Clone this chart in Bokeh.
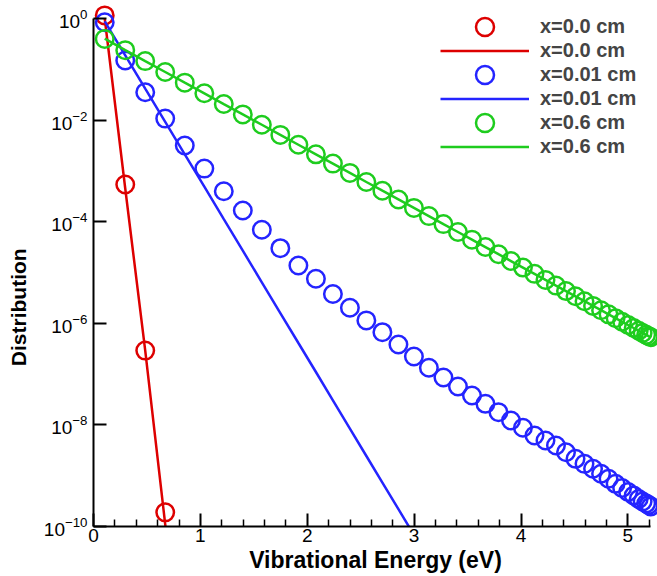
from bokeh.plotting import figure
from bokeh.models import FixedTicker, LogTickFormatter, Range1d, Legend, LegendItem
from bokeh.core.properties import value
from bokeh.embed import file_html
from bokeh.resources import INLINE

# vibrational level energies (eV)
energy = [0.105, 0.297, 0.484, 0.671, 0.854, 1.037, 1.219, 1.397, 1.575, 1.748,
          1.917, 2.081, 2.240, 2.399, 2.553, 2.703, 2.853, 2.998, 3.138, 3.274,
          3.410, 3.541, 3.667, 3.789, 3.906, 4.018, 4.126, 4.229, 4.327, 4.421,
          4.510, 4.594, 4.674, 4.749, 4.819, 4.885, 4.946, 5.002, 5.054, 5.101,
          5.138, 5.171, 5.194, 5.213]

# x = 0.0 cm
red_sym_x = energy[:4]
red_sym = [1.15, 5.4e-4, 2.9e-7, 1.9e-10]
red_line_x = energy[:5]
red_line = [1.0, 4.5e-4, 2.9e-7, 1.1e-10, 6e-14]

# x = 0.01 cm
blue_sym_x = energy
blue_sym = [0.845, 0.149, 3.54e-2, 1.07e-2, 3.16e-3, 1.11e-3, 3.98e-4, 1.66e-4, 6.93e-5, 3.01e-5,
            1.37e-5, 7.52e-6, 3.77e-6, 2.02e-6, 1.14e-6, 6.68e-7, 3.83e-7, 2.22e-7, 1.33e-7, 8.57e-8,
            5.70e-8, 3.79e-8, 2.60e-8, 1.78e-8, 1.22e-8, 8.77e-9, 6.18e-9, 4.93e-9, 3.93e-9, 2.90e-9,
            2.15e-9, 1.71e-9, 1.37e-9, 1.09e-9, 8.69e-10, 6.92e-10, 5.73e-10, 4.78e-10, 4.07e-10, 3.48e-10,
            3.10e-10, 2.84e-10, 2.65e-10, 2.48e-10]
blue_line_x = energy[:18]
blue_line = [0.877, 0.188, 4.15e-2, 9.23e-3, 2.12e-3, 4.88e-4, 1.12e-4, 2.69e-5, 6.41e-6, 1.59e-6,
             4.09e-7, 1.10e-7, 3.05e-8, 8.45e-9, 2.44e-9, 7.31e-10, 2.19e-10, 6.84e-11]

# x = 0.6 cm
green_sym_x = energy
green_sym = [0.396, 0.238, 0.145, 8.85e-2, 5.45e-2, 3.37e-2, 2.07e-2, 1.295e-2, 8.09e-3, 5.11e-3,
             3.27e-3, 2.12e-3, 1.39e-3, 9.12e-4, 6.05e-4, 4.07e-4, 2.74e-4, 1.87e-4, 1.29e-4, 8.97e-5,
             6.27e-5, 4.43e-5, 3.17e-5, 2.29e-5, 1.68e-5, 1.25e-5, 9.41e-6, 7.15e-6, 5.52e-6, 4.31e-6,
             3.40e-6, 2.72e-6, 2.20e-6, 1.81e-6, 1.50e-6, 1.26e-6, 1.07e-6, 9.26e-7, 8.07e-7, 7.14e-7,
             6.47e-7, 5.93e-7, 5.57e-7, 5.30e-7]
green_line_x = energy
green_line = [0.40, 0.238, 0.145, 8.85e-2, 5.45e-2, 3.37e-2, 2.07e-2, 1.295e-2, 8.09e-3, 5.11e-3,
              3.27e-3, 2.12e-3, 1.39e-3, 9.12e-4, 6.05e-4, 4.07e-4, 2.74e-4, 1.87e-4, 1.29e-4, 8.97e-5,
              6.27e-5, 4.43e-5, 3.17e-5, 2.29e-5, 1.68e-5, 1.25e-5, 9.41e-6, 7.15e-6, 5.52e-6, 4.31e-6,
              3.40e-6, 2.72e-6, 2.20e-6, 1.81e-6, 1.50e-6, 1.26e-6, 1.07e-6, 9.26e-7, 8.07e-7, 7.14e-7,
              6.47e-7, 5.93e-7, 5.57e-7, 5.30e-7]

labels = ["x=0.0 cm", "x=0.01 cm", "x=0.6 cm"]
x_title = "Vibrational Energy (eV)"
y_title = "Distribution"
x_major = [0, 1, 2, 3, 4, 5]
x_minor = [0.2, 0.4, 0.6, 0.8, 1.2, 1.4, 1.6, 1.8, 2.2, 2.4, 2.6, 2.8, 3.2, 3.4, 3.6, 3.8,
           4.2, 4.4, 4.6, 4.8, 5.2]
y_major = [1e-10, 1e-8, 1e-6, 1e-4, 1e-2, 1.0]

RED, BLUE, GREEN = "#dd0000", "#2424ff", "#1ecc1e"
FONT = "Liberation Sans"

p = figure(width=657, height=576, y_axis_type="log",
           x_range=Range1d(0, 5.277), y_range=Range1d(1e-10, 10 ** 0.354),
           output_backend="svg", toolbar_location=None,
           min_border_left=93, min_border_right=0, min_border_top=0, min_border_bottom=50)
p.outline_line_color = None
p.grid.visible = False
p.background_fill_color = "white"

sym_items, line_items = [], []
for sx, sy, lx, ly, col, lab in [(red_sym_x, red_sym, red_line_x, red_line, RED, labels[0]),
                                 (blue_sym_x, blue_sym, blue_line_x, blue_line, BLUE, labels[1]),
                                 (green_sym_x, green_sym, green_line_x, green_line, GREEN, labels[2])]:
    rl = p.line(lx, ly, line_color=col, line_width=2.5)
    rs = p.scatter(sx, sy, marker="circle", size=17.5, fill_color=None,
                   line_color=col, line_width=2.5)
    sym_items.append(LegendItem(label=value(lab), renderers=[rs]))
    line_items.append(LegendItem(label=value(lab), renderers=[rl]))


def make_legend(items, loc):
    lg = Legend(items=items, location=loc)
    lg.glyph_width = 89
    lg.glyph_height = 45
    lg.label_height = 45
    lg.label_width = 100
    lg.spacing = 3
    lg.padding = 0
    lg.margin = 0
    lg.label_standoff = 11
    lg.label_text_font = FONT
    lg.label_text_font_style = "bold"
    lg.label_text_font_size = "20px"
    lg.background_fill_alpha = 0
    lg.border_line_color = None
    return lg


p.add_layout(make_legend(sym_items, (347, 381)))
p.add_layout(make_legend(line_items, (347, 357)))

for ax in (p.xaxis, p.yaxis):
    ax.axis_line_width = 2
    ax.axis_line_color = "black"
    ax.major_tick_in = 13
    ax.major_tick_out = 0
    ax.major_tick_line_width = 2
    ax.minor_tick_in = 7
    ax.minor_tick_out = 0
    ax.minor_tick_line_width = 1.5
    ax.major_label_text_font = FONT
    ax.major_label_text_font_size = "19px"
    ax.major_label_text_color = "black"
    ax.axis_label_text_font = FONT
    ax.axis_label_text_font_style = "bold"
    ax.axis_label_text_color = "black"

p.xaxis.ticker = FixedTicker(ticks=x_major, minor_ticks=x_minor)
p.xaxis.bounds = (0, 5.21)
p.xaxis.major_label_standoff = 2
p.xaxis.axis_label = x_title
p.xaxis.axis_label_text_font_size = "23px"
p.xaxis.axis_label_standoff = 2

p.yaxis.ticker = FixedTicker(ticks=y_major, minor_ticks=[])
p.yaxis.formatter = LogTickFormatter()
p.yaxis.bounds = (1e-10, 1.0)
p.yaxis.major_label_standoff = 6
# trailing no-break spaces move the centred title down to where the reference has it
p.yaxis.axis_label = y_title + "\u00a0" * 15
p.yaxis.axis_label_text_font_size = "21px"
p.yaxis.axis_label_standoff = 11

open("out.html", "w").write(file_html(p, INLINE))
